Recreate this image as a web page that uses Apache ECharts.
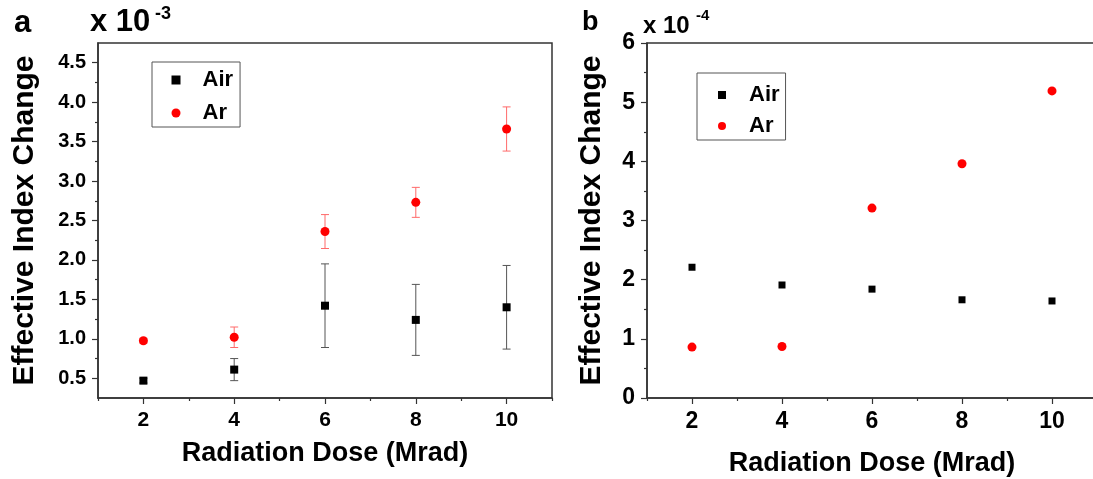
<!DOCTYPE html>
<html>
<head>
<meta charset="utf-8">
<script src="https://cdn.jsdelivr.net/npm/echarts@6/dist/echarts.min.js"></script>
<style>
html,body{margin:0;padding:0;background:#fff;}
#c{width:1093px;height:479px;}
</style>
</head>
<body>
<div id="c"></div>
<script>
// ---- data ----
const doses = [2, 4, 6, 8, 10];
// panel a (x 10^-3)
const airA = [0.47, 0.61, 1.42, 1.24, 1.40];
const airErrA = [0.03, 0.14, 0.53, 0.45, 0.53];
const arA = [0.975, 1.02, 2.36, 2.73, 3.66];
const arErrA = [0.03, 0.13, 0.215, 0.19, 0.28];
// panel b (x 10^-4)
const airB = [2.21, 1.91, 1.84, 1.66, 1.64];
const arB = [0.86, 0.87, 3.21, 3.96, 5.19];
// ticks
const xMajor = [2, 4, 6, 8, 10];
const xMinor = [1, 3, 5, 7, 9, 11];
const yMajorA = [0.5, 1.0, 1.5, 2.0, 2.5, 3.0, 3.5, 4.0, 4.5];
const yMinorA = [0.75, 1.25, 1.75, 2.25, 2.75, 3.25, 3.75, 4.25];

const FONT = "'Liberation Sans', Arial, sans-serif";
const AXC = '#333';

function pts(xs, ys) { return xs.map((x, i) => [x, ys[i]]); }
function errPts(xs, ys, es) { return xs.map((x, i) => [x, ys[i], es[i]]); }

function errRender(color) {
  return function (params, api) {
    const x = api.value(0), y = api.value(1), e = api.value(2);
    const top = api.coord([x, y + e]);
    const bot = api.coord([x, y - e]);
    const hw = 4;
    const st = { stroke: color, lineWidth: 1 };
    return {
      type: 'group',
      children: [
        { type: 'line', shape: { x1: top[0], y1: top[1], x2: bot[0], y2: bot[1] }, style: st },
        { type: 'line', shape: { x1: top[0] - hw, y1: top[1], x2: top[0] + hw, y2: top[1] }, style: st },
        { type: 'line', shape: { x1: bot[0] - hw, y1: bot[1], x2: bot[0] + hw, y2: bot[1] }, style: st }
      ]
    };
  };
}

const tickLabel = (size) => ({ fontFamily: FONT, fontWeight: 'bold', fontSize: size, color: '#000' });

function mainX(grid, labelSize, nameGap) {
  return {
    gridIndex: grid, type: 'value', min: 1, max: 11,
    axisLine: { show: true, onZero: false, lineStyle: { color: AXC, width: 1.5 } },
    axisTick: { show: true, inside: false, length: 6, customValues: xMajor, lineStyle: { color: AXC, width: 1.2 } },
    axisLabel: Object.assign({ show: true, customValues: xMajor, margin: 12 }, tickLabel(labelSize)),
    splitLine: { show: false },
    name: 'Radiation Dose (Mrad)', nameLocation: 'middle', nameGap: nameGap,
    nameTextStyle: { fontFamily: FONT, fontWeight: 'bold', fontSize: 27, color: '#000' }
  };
}
function minorX(grid) {
  return {
    gridIndex: grid, type: 'value', min: 1, max: 11, position: 'bottom',
    axisLine: { show: false },
    axisTick: { show: true, inside: false, length: 3, customValues: xMinor, lineStyle: { color: AXC, width: 1.2 } },
    axisLabel: { show: false }, splitLine: { show: false }
  };
}

const option = {
  backgroundColor: '#fff',
  animation: false,
  grid: [
    { left: 98, top: 43, width: 454, height: 355, show: true, borderColor: AXC, borderWidth: 1.5, backgroundColor: 'transparent', outerBoundsMode: 'none', containLabel: false },
    { left: 647, top: 43, width: 450, height: 355, show: true, borderColor: AXC, borderWidth: 1.5, backgroundColor: 'transparent', outerBoundsMode: 'none', containLabel: false }
  ],
  xAxis: [mainX(0, 21, 42), minorX(0), mainX(1, 23, 52), minorX(1)],
  yAxis: [
    {
      gridIndex: 0, type: 'value', min: 0.25, max: 4.75,
      axisLine: { show: true, onZero: false, lineStyle: { color: AXC, width: 1.5 } },
      axisTick: { show: true, inside: false, length: 6, customValues: yMajorA, lineStyle: { color: AXC, width: 1.2 } },
      axisLabel: Object.assign({ show: true, customValues: yMajorA, margin: 12, formatter: v => v.toFixed(1) }, tickLabel(20)),
      splitLine: { show: false },
      name: 'Effective Index Change', nameLocation: 'middle', nameGap: 58, nameRotate: 90,
      nameTextStyle: { fontFamily: FONT, fontWeight: 'bold', fontSize: 30, color: '#000' }
    },
    {
      gridIndex: 0, type: 'value', min: 0.25, max: 4.75, position: 'left',
      axisLine: { show: false },
      axisTick: { show: true, inside: false, length: 3, customValues: yMinorA, lineStyle: { color: AXC, width: 1.2 } },
      axisLabel: { show: false }, splitLine: { show: false }
    },
    {
      gridIndex: 1, type: 'value', min: 0, max: 6, interval: 1,
      axisLine: { show: true, onZero: false, lineStyle: { color: AXC, width: 1.5 } },
      axisTick: { show: true, inside: false, length: 6, lineStyle: { color: AXC, width: 1.2 } },
      minorTick: { show: true, splitNumber: 2, length: 3, lineStyle: { color: AXC, width: 1.2 } },
      axisLabel: Object.assign({ show: true, margin: 12 }, tickLabel(23)),
      splitLine: { show: false }, minorSplitLine: { show: false },
      name: 'Effective Index Change', nameLocation: 'middle', nameGap: 40, nameRotate: 90,
      nameTextStyle: { fontFamily: FONT, fontWeight: 'bold', fontSize: 30, color: '#000' }
    }
  ],
  legend: [
    {
      left: 152, top: 62, orient: 'vertical', itemWidth: 9, itemHeight: 9, itemGap: 11,
      padding: [7, 7, 3, 19.5], borderColor: '#555', borderWidth: 1,
      data: [{ name: 'Air', icon: 'rect' }, { name: 'Ar', icon: 'circle' }],
      selectedMode: false,
      textStyle: { fontFamily: FONT, fontWeight: 'bold', fontSize: 22, lineHeight: 22, color: '#000', padding: [0, 0, 0, 17] }
    },
    {
      left: 697, top: 73, orient: 'vertical', itemWidth: 8, itemHeight: 8, itemGap: 9,
      padding: [11, 6, 3, 21], borderColor: '#555', borderWidth: 1,
      data: [{ name: 'Air', icon: 'rect' }, { name: 'Ar', icon: 'circle' }],
      selectedMode: false,
      textStyle: { fontFamily: FONT, fontWeight: 'bold', fontSize: 22, lineHeight: 22, color: '#000', padding: [0, 0, 0, 18] }
    }
  ],
  series: [
    { name: 'Air err a', type: 'custom', xAxisIndex: 0, yAxisIndex: 0, data: errPts(doses, airA, airErrA), renderItem: errRender('#555'), z: 1, silent: true },
    { name: 'Ar err a', type: 'custom', xAxisIndex: 0, yAxisIndex: 0, data: errPts(doses, arA, arErrA), renderItem: errRender('#ff6a6a'), z: 1, silent: true },
    { name: 'Air', type: 'scatter', xAxisIndex: 0, yAxisIndex: 0, data: pts(doses, airA), symbol: 'rect', symbolSize: 8, itemStyle: { color: '#000', opacity: 1 }, z: 3 },
    { name: 'Ar', type: 'scatter', xAxisIndex: 0, yAxisIndex: 0, data: pts(doses, arA), symbol: 'circle', symbolSize: 9, itemStyle: { color: '#ff0000', opacity: 1 }, z: 3 },
    { name: 'Air', type: 'scatter', xAxisIndex: 2, yAxisIndex: 2, data: pts(doses, airB), symbol: 'rect', symbolSize: 7, itemStyle: { color: '#000', opacity: 1 }, z: 3 },
    { name: 'Ar', type: 'scatter', xAxisIndex: 2, yAxisIndex: 2, data: pts(doses, arB), symbol: 'circle', symbolSize: 9, itemStyle: { color: '#ff0000', opacity: 1 }, z: 3 }
  ],
  graphic: [
    { type: 'text', left: 14, top: 8, style: { text: 'a', font: "bold 31px " + FONT, fill: '#000' } },
    { type: 'text', left: 90, top: 7, style: { text: 'x 10', font: "bold 31px " + FONT, fill: '#000' } },
    { type: 'text', left: 155, top: 5, style: { text: '-3', font: "bold 18px " + FONT, fill: '#000' } },
    { type: 'text', left: 582, top: 9, style: { text: 'b', font: "bold 27px " + FONT, fill: '#000' } },
    { type: 'text', left: 643, top: 14, style: { text: 'x 10', font: "bold 24px " + FONT, fill: '#000' } },
    { type: 'text', left: 696, top: 8, style: { text: '-4', font: "bold 15px " + FONT, fill: '#000' } }
  ]
};

const chart = echarts.init(document.getElementById('c'), null, { renderer: 'canvas' });
chart.setOption(option);
</script>
</body>
</html>
